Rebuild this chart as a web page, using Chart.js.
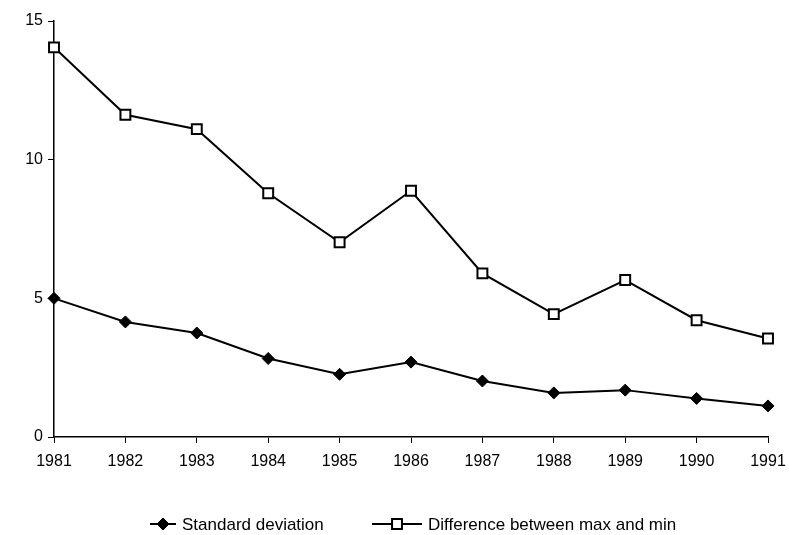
<!DOCTYPE html>
<html>
<head>
<meta charset="utf-8">
<script src="https://cdn.jsdelivr.net/npm/chart.js@4"></script>
<style>
  html, body { margin: 0; padding: 0; background: #fff; }
  #chart { display: block; }
</style>
</head>
<body>
<canvas id="chart" width="789" height="535"></canvas>
<script>
/* ── Data ── */
const years      = ['1981','1982','1983','1984','1985','1986','1987','1988','1989','1990','1991'];
const stdDev     = [5.0, 4.15, 3.75, 2.83, 2.26, 2.70, 2.02, 1.59, 1.69, 1.39, 1.12];
const maxMinDiff = [14.05, 11.62, 11.1, 8.79, 7.02, 8.88, 5.9, 4.43, 5.66, 4.21, 3.55];
const yTicks     = [0, 5, 10, 15];

const FONT = 'Liberation Sans, Arial, sans-serif';

/* ── Legend drawn as line + marker + text, like the original ── */
const lineLegend = {
  id: 'lineLegend',
  afterDraw(chart) {
    const c = chart.ctx;
    const y = 524;
    const items = [
      { ds: 0, x0: 150, x1: 176 },
      { ds: 1, x0: 372, x1: 422 }
    ];
    c.save();
    items.forEach(it => {
      const ds = chart.data.datasets[it.ds];
      c.strokeStyle = '#000';
      c.lineWidth = 2;
      c.beginPath();
      c.moveTo(it.x0, y);
      c.lineTo(it.x1, y);
      c.stroke();
      c.fillStyle   = ds.pointBackgroundColor;
      c.strokeStyle = ds.pointBorderColor;
      c.lineWidth   = ds.pointBorderWidth;
      Chart.helpers.drawPoint(c, {
        pointStyle: ds.pointStyle,
        radius: ds.pointRadius,
        borderWidth: ds.pointBorderWidth
      }, (it.x0 + it.x1) / 2, y);
      c.fillStyle = '#000';
      c.font = '17px ' + FONT;
      c.textBaseline = 'middle';
      c.textAlign = 'left';
      c.fillText(ds.label, it.x1 + 6, y + 1);
    });
    c.restore();
  }
};

new Chart(document.getElementById('chart'), {
  type: 'line',
  data: {
    labels: years,
    datasets: [
      {
        label: 'Standard deviation',
        data: stdDev,
        borderColor: '#000',
        borderWidth: 2,
        backgroundColor: '#000',
        pointStyle: 'rectRot',
        pointRadius: 6,
        pointBorderWidth: 1,
        pointBackgroundColor: '#000',
        pointBorderColor: '#000',
        tension: 0
      },
      {
        label: 'Difference between max and min',
        data: maxMinDiff,
        borderColor: '#000',
        borderWidth: 2,
        backgroundColor: '#fff',
        pointStyle: 'rect',
        pointRadius: 7,
        pointBorderWidth: 2,
        pointBackgroundColor: '#fff',
        pointBorderColor: '#000',
        tension: 0
      }
    ]
  },
  options: {
    responsive: false,
    animation: false,
    layout: { padding: { left: 0, right: 21, top: 21, bottom: 56 } },
    plugins: {
      legend: { display: false },
      tooltip: { enabled: false }
    },
    scales: {
      x: {
        offset: false,
        grid: { display: true, drawOnChartArea: false, drawTicks: true, tickLength: 6, color: '#000', lineWidth: 1 },
        border: { display: true, color: '#000', width: 1.5 },
        ticks: { color: '#000', font: { family: FONT, size: 16 }, padding: 9, maxRotation: 0, autoSkip: false },
        afterFit: s => { s.height = 42; s.paddingRight = 0; s.paddingLeft = 0; }
      },
      y: {
        min: 0,
        max: 15,
        afterBuildTicks: s => { s.ticks = yTicks.map(v => ({ value: v })); },
        grid: { display: true, drawOnChartArea: false, drawTicks: true, tickLength: 6, color: '#000', lineWidth: 1 },
        border: { display: true, color: '#000', width: 1.5 },
        ticks: { color: '#000', font: { family: FONT, size: 16 }, padding: 5 },
        afterFit: s => { s.width = 54; }
      }
    }
  },
  plugins: [lineLegend]
});
</script>
</body>
</html>
